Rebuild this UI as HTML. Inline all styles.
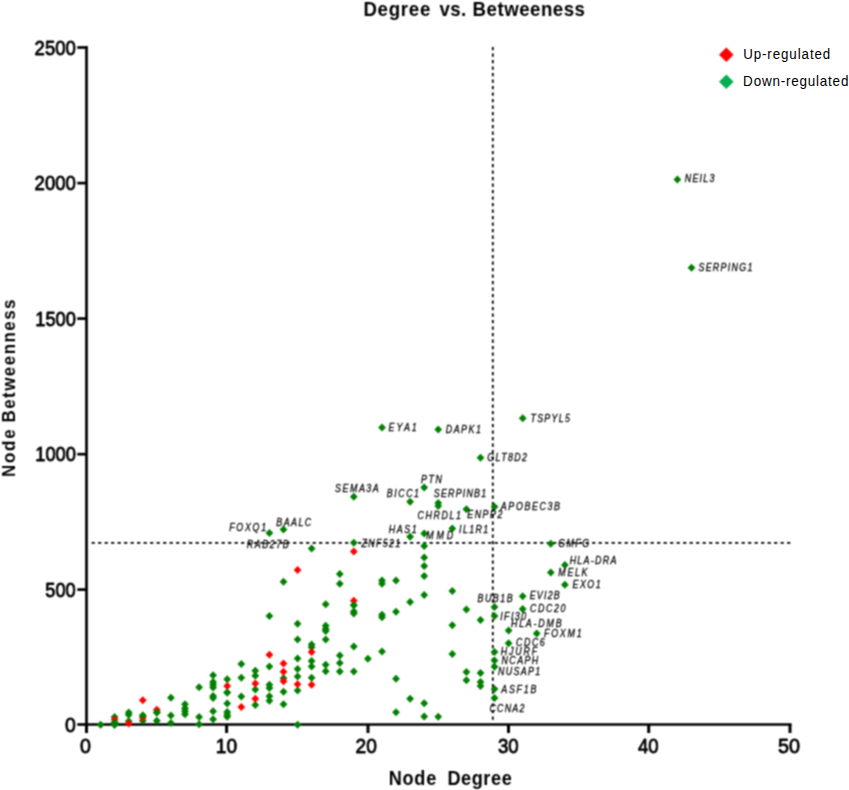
<!DOCTYPE html><html><head><meta charset="utf-8"><style>html,body{margin:0;padding:0;background:#fff;}svg{display:block;}</style></head><body>
<svg width="849" height="790" viewBox="0 0 849 790">
<defs><filter id="gb" x="0" y="0" width="849" height="790" filterUnits="userSpaceOnUse" color-interpolation-filters="sRGB"><feConvolveMatrix order="3" kernelMatrix="0.0625 0.1250 0.0625 0.1250 0.2500 0.1250 0.0625 0.1250 0.0625" divisor="1" edgeMode="duplicate" preserveAlpha="true"/></filter></defs>
<g filter="url(#gb)">
<rect width="849" height="790" fill="#fff"/>
<line x1="492.8" y1="47" x2="492.8" y2="720" stroke="#000" stroke-width="1.8" stroke-dasharray="3.2 3.3"/>
<line x1="91.6" y1="542.9" x2="790.5" y2="542.9" stroke="#000" stroke-width="1.8" stroke-dasharray="3.2 3.3"/>
<g stroke="#000" stroke-width="2.7" fill="none" stroke-linecap="butt">
<line x1="86.5" y1="46" x2="86.5" y2="726"/>
<line x1="85" y1="724.5" x2="791.5" y2="724.5"/>
<line x1="77.3" y1="724.5" x2="86" y2="724.5" stroke-width="2.7"/>
<line x1="77.3" y1="589.6" x2="86" y2="589.6" stroke-width="2.7"/>
<line x1="77.3" y1="454.2" x2="86" y2="454.2" stroke-width="2.7"/>
<line x1="77.3" y1="318.6" x2="86" y2="318.6" stroke-width="2.7"/>
<line x1="77.3" y1="183.1" x2="86" y2="183.1" stroke-width="2.7"/>
<line x1="77.3" y1="47.5" x2="86" y2="47.5" stroke-width="2.7"/>
<line x1="86.5" y1="724" x2="86.5" y2="733" stroke-width="3"/>
<line x1="226.6" y1="724" x2="226.6" y2="733" stroke-width="3"/>
<line x1="368.0" y1="724" x2="368.0" y2="733" stroke-width="3"/>
<line x1="508.5" y1="724" x2="508.5" y2="733" stroke-width="3"/>
<line x1="648.7" y1="724" x2="648.7" y2="733" stroke-width="3"/>
<line x1="790.0" y1="724" x2="790.0" y2="733" stroke-width="3"/>
</g>
<polygon points="100.6,720.8 104.5,724.8 100.6,728.8 96.7,724.8" fill="#008000"/>
<polygon points="114.6,713.1 118.5,717.1 114.6,721.1 110.7,717.1" fill="#008000"/>
<polygon points="114.6,718.5 118.5,722.5 114.6,726.5 110.7,722.5" fill="#008000"/>
<polygon points="114.6,720.8 118.5,724.8 114.6,728.8 110.7,724.8" fill="#008000"/>
<polygon points="128.7,708.4 132.6,712.4 128.7,716.4 124.8,712.4" fill="#008000"/>
<polygon points="128.7,710.8 132.6,714.8 128.7,718.8 124.8,714.8" fill="#008000"/>
<polygon points="128.7,717.3 132.6,721.3 128.7,725.3 124.8,721.3" fill="#008000"/>
<polygon points="142.8,711.4 146.7,715.4 142.8,719.4 138.9,715.4" fill="#008000"/>
<polygon points="142.8,716.7 146.7,720.7 142.8,724.7 138.9,720.7" fill="#008000"/>
<polygon points="156.8,708.4 160.8,712.4 156.8,716.4 152.9,712.4" fill="#008000"/>
<polygon points="156.8,716.7 160.8,720.7 156.8,724.7 152.9,720.7" fill="#008000"/>
<polygon points="170.9,693.7 174.8,697.7 170.9,701.7 167.0,697.7" fill="#008000"/>
<polygon points="170.9,711.4 174.8,715.4 170.9,719.4 167.0,715.4" fill="#008000"/>
<polygon points="170.9,719.0 174.8,723.0 170.9,727.0 167.0,723.0" fill="#008000"/>
<polygon points="185.0,700.2 188.9,704.2 185.0,708.2 181.1,704.2" fill="#008000"/>
<polygon points="185.0,704.3 188.9,708.3 185.0,712.3 181.1,708.3" fill="#008000"/>
<polygon points="185.0,707.3 188.9,711.3 185.0,715.3 181.1,711.3" fill="#008000"/>
<polygon points="185.0,710.2 188.9,714.2 185.0,718.2 181.1,714.2" fill="#008000"/>
<polygon points="199.1,683.3 203.0,687.3 199.1,691.3 195.2,687.3" fill="#008000"/>
<polygon points="199.1,713.1 203.0,717.1 199.1,721.1 195.2,717.1" fill="#008000"/>
<polygon points="199.1,720.2 203.0,724.2 199.1,728.2 195.2,724.2" fill="#008000"/>
<polygon points="213.1,671.3 217.0,675.3 213.1,679.3 209.2,675.3" fill="#008000"/>
<polygon points="213.1,678.0 217.0,682.0 213.1,686.0 209.2,682.0" fill="#008000"/>
<polygon points="213.1,680.8 217.0,684.8 213.1,688.8 209.2,684.8" fill="#008000"/>
<polygon points="213.1,683.5 217.0,687.5 213.1,691.5 209.2,687.5" fill="#008000"/>
<polygon points="213.1,691.9 217.0,695.9 213.1,699.9 209.2,695.9" fill="#008000"/>
<polygon points="213.1,694.0 217.0,698.0 213.1,702.0 209.2,698.0" fill="#008000"/>
<polygon points="213.1,707.2 217.0,711.2 213.1,715.2 209.2,711.2" fill="#008000"/>
<polygon points="213.1,715.2 217.0,719.2 213.1,723.2 209.2,719.2" fill="#008000"/>
<polygon points="227.2,675.2 231.1,679.2 227.2,683.2 223.3,679.2" fill="#008000"/>
<polygon points="227.2,688.4 231.1,692.4 227.2,696.4 223.3,692.4" fill="#008000"/>
<polygon points="227.2,699.6 231.1,703.6 227.2,707.6 223.3,703.6" fill="#008000"/>
<polygon points="227.2,707.9 231.1,711.9 227.2,715.9 223.3,711.9" fill="#008000"/>
<polygon points="227.2,710.7 231.1,714.7 227.2,718.7 223.3,714.7" fill="#008000"/>
<polygon points="227.2,712.8 231.1,716.8 227.2,720.8 223.3,716.8" fill="#008000"/>
<polygon points="241.3,659.9 245.2,663.9 241.3,667.9 237.4,663.9" fill="#008000"/>
<polygon points="241.3,673.8 245.2,677.8 241.3,681.8 237.4,677.8" fill="#008000"/>
<polygon points="241.3,692.6 245.2,696.6 241.3,700.6 237.4,696.6" fill="#008000"/>
<polygon points="255.3,666.8 259.2,670.8 255.3,674.8 251.4,670.8" fill="#008000"/>
<polygon points="255.3,671.7 259.2,675.7 255.3,679.7 251.4,675.7" fill="#008000"/>
<polygon points="255.3,685.6 259.2,689.6 255.3,693.6 251.4,689.6" fill="#008000"/>
<polygon points="255.3,701.0 259.2,705.0 255.3,709.0 251.4,705.0" fill="#008000"/>
<polygon points="269.4,529.0 273.3,533.0 269.4,537.0 265.5,533.0" fill="#008000"/>
<polygon points="269.4,612.0 273.3,616.0 269.4,620.0 265.5,616.0" fill="#008000"/>
<polygon points="269.4,662.4 273.3,666.4 269.4,670.4 265.5,666.4" fill="#008000"/>
<polygon points="269.4,680.8 273.3,684.8 269.4,688.8 265.5,684.8" fill="#008000"/>
<polygon points="269.4,684.0 273.3,688.0 269.4,692.0 265.5,688.0" fill="#008000"/>
<polygon points="269.4,692.2 273.3,696.2 269.4,700.2 265.5,696.2" fill="#008000"/>
<polygon points="269.4,696.8 273.3,700.8 269.4,704.8 265.5,700.8" fill="#008000"/>
<polygon points="283.5,525.4 287.4,529.4 283.5,533.4 279.6,529.4" fill="#008000"/>
<polygon points="283.5,577.8 287.4,581.8 283.5,585.8 279.6,581.8" fill="#008000"/>
<polygon points="283.5,674.3 287.4,678.3 283.5,682.3 279.6,678.3" fill="#008000"/>
<polygon points="283.5,687.8 287.4,691.8 283.5,695.8 279.6,691.8" fill="#008000"/>
<polygon points="283.5,700.2 287.4,704.2 283.5,708.2 279.6,704.2" fill="#008000"/>
<polygon points="297.6,619.7 301.4,623.7 297.6,627.7 293.7,623.7" fill="#008000"/>
<polygon points="297.6,635.5 301.4,639.5 297.6,643.5 293.7,639.5" fill="#008000"/>
<polygon points="297.6,654.6 301.4,658.6 297.6,662.6 293.7,658.6" fill="#008000"/>
<polygon points="297.6,664.9 301.4,668.9 297.6,672.9 293.7,668.9" fill="#008000"/>
<polygon points="297.6,672.5 301.4,676.5 297.6,680.5 293.7,676.5" fill="#008000"/>
<polygon points="297.6,686.4 301.4,690.4 297.6,694.4 293.7,690.4" fill="#008000"/>
<polygon points="297.6,720.8 301.4,724.8 297.6,728.8 293.7,724.8" fill="#008000"/>
<polygon points="311.6,544.6 315.5,548.6 311.6,552.6 307.7,548.6" fill="#008000"/>
<polygon points="311.6,640.5 315.5,644.5 311.6,648.5 307.7,644.5" fill="#008000"/>
<polygon points="311.6,643.2 315.5,647.2 311.6,651.2 307.7,647.2" fill="#008000"/>
<polygon points="311.6,657.0 315.5,661.0 311.6,665.0 307.7,661.0" fill="#008000"/>
<polygon points="311.6,662.5 315.5,666.5 311.6,670.5 307.7,666.5" fill="#008000"/>
<polygon points="311.6,673.7 315.5,677.7 311.6,681.7 307.7,677.7" fill="#008000"/>
<polygon points="325.7,600.3 329.6,604.3 325.7,608.3 321.8,604.3" fill="#008000"/>
<polygon points="325.7,621.8 329.6,625.8 325.7,629.8 321.8,625.8" fill="#008000"/>
<polygon points="325.7,625.0 329.6,629.0 325.7,633.0 321.8,629.0" fill="#008000"/>
<polygon points="325.7,626.9 329.6,630.9 325.7,634.9 321.8,630.9" fill="#008000"/>
<polygon points="325.7,635.5 329.6,639.5 325.7,643.5 321.8,639.5" fill="#008000"/>
<polygon points="325.7,660.7 329.6,664.7 325.7,668.7 321.8,664.7" fill="#008000"/>
<polygon points="325.7,667.2 329.6,671.2 325.7,675.2 321.8,671.2" fill="#008000"/>
<polygon points="339.8,569.9 343.7,573.9 339.8,577.9 335.9,573.9" fill="#008000"/>
<polygon points="339.8,579.7 343.7,583.7 339.8,587.7 335.9,583.7" fill="#008000"/>
<polygon points="339.8,651.4 343.7,655.4 339.8,659.4 335.9,655.4" fill="#008000"/>
<polygon points="339.8,659.0 343.7,663.0 339.8,667.0 335.9,663.0" fill="#008000"/>
<polygon points="339.8,667.6 343.7,671.6 339.8,675.6 335.9,671.6" fill="#008000"/>
<polygon points="353.8,492.8 357.7,496.8 353.8,500.8 349.9,496.8" fill="#008000"/>
<polygon points="353.8,538.8 357.7,542.8 353.8,546.8 349.9,542.8" fill="#008000"/>
<polygon points="353.8,601.3 357.7,605.3 353.8,609.3 349.9,605.3" fill="#008000"/>
<polygon points="353.8,607.5 357.7,611.5 353.8,615.5 349.9,611.5" fill="#008000"/>
<polygon points="353.8,609.5 357.7,613.5 353.8,617.5 349.9,613.5" fill="#008000"/>
<polygon points="353.8,642.5 357.7,646.5 353.8,650.5 349.9,646.5" fill="#008000"/>
<polygon points="353.8,667.4 357.7,671.4 353.8,675.4 349.9,671.4" fill="#008000"/>
<polygon points="367.9,654.8 371.8,658.8 367.9,662.8 364.0,658.8" fill="#008000"/>
<polygon points="382.0,423.6 385.9,427.6 382.0,431.6 378.1,427.6" fill="#008000"/>
<polygon points="382.0,576.4 385.9,580.4 382.0,584.4 378.1,580.4" fill="#008000"/>
<polygon points="382.0,579.8 385.9,583.8 382.0,587.8 378.1,583.8" fill="#008000"/>
<polygon points="382.0,610.8 385.9,614.8 382.0,618.8 378.1,614.8" fill="#008000"/>
<polygon points="382.0,613.3 385.9,617.3 382.0,621.3 378.1,617.3" fill="#008000"/>
<polygon points="382.0,647.6 385.9,651.6 382.0,655.6 378.1,651.6" fill="#008000"/>
<polygon points="396.0,576.4 399.9,580.4 396.0,584.4 392.1,580.4" fill="#008000"/>
<polygon points="396.0,607.8 399.9,611.8 396.0,615.8 392.1,611.8" fill="#008000"/>
<polygon points="396.0,674.7 399.9,678.7 396.0,682.7 392.1,678.7" fill="#008000"/>
<polygon points="396.0,708.3 399.9,712.3 396.0,716.3 392.1,712.3" fill="#008000"/>
<polygon points="410.1,497.7 414.0,501.7 410.1,505.7 406.2,501.7" fill="#008000"/>
<polygon points="410.1,532.7 414.0,536.7 410.1,540.7 406.2,536.7" fill="#008000"/>
<polygon points="410.1,598.0 414.0,602.0 410.1,606.0 406.2,602.0" fill="#008000"/>
<polygon points="410.1,694.8 414.0,698.8 410.1,702.8 406.2,698.8" fill="#008000"/>
<polygon points="424.2,483.4 428.1,487.4 424.2,491.4 420.3,487.4" fill="#008000"/>
<polygon points="424.2,529.4 428.1,533.4 424.2,537.4 420.3,533.4" fill="#008000"/>
<polygon points="424.2,541.9 428.1,545.9 424.2,549.9 420.3,545.9" fill="#008000"/>
<polygon points="424.2,553.5 428.1,557.5 424.2,561.5 420.3,557.5" fill="#008000"/>
<polygon points="424.2,561.9 428.1,565.9 424.2,569.9 420.3,565.9" fill="#008000"/>
<polygon points="424.2,572.0 428.1,576.0 424.2,580.0 420.3,576.0" fill="#008000"/>
<polygon points="424.2,591.1 428.1,595.1 424.2,599.1 420.3,595.1" fill="#008000"/>
<polygon points="424.2,699.3 428.1,703.3 424.2,707.3 420.3,703.3" fill="#008000"/>
<polygon points="424.2,712.6 428.1,716.6 424.2,720.6 420.3,716.6" fill="#008000"/>
<polygon points="438.2,425.4 442.1,429.4 438.2,433.4 434.4,429.4" fill="#008000"/>
<polygon points="438.2,499.0 442.1,503.0 438.2,507.0 434.4,503.0" fill="#008000"/>
<polygon points="438.2,502.0 442.1,506.0 438.2,510.0 434.4,506.0" fill="#008000"/>
<polygon points="438.2,712.8 442.1,716.8 438.2,720.8 434.4,716.8" fill="#008000"/>
<polygon points="452.3,524.4 456.2,528.4 452.3,532.4 448.4,528.4" fill="#008000"/>
<polygon points="452.3,587.1 456.2,591.1 452.3,595.1 448.4,591.1" fill="#008000"/>
<polygon points="452.3,621.3 456.2,625.3 452.3,629.3 448.4,625.3" fill="#008000"/>
<polygon points="452.3,650.0 456.2,654.0 452.3,658.0 448.4,654.0" fill="#008000"/>
<polygon points="466.4,505.2 470.3,509.2 466.4,513.2 462.5,509.2" fill="#008000"/>
<polygon points="466.4,605.4 470.3,609.4 466.4,613.4 462.5,609.4" fill="#008000"/>
<polygon points="466.4,668.1 470.3,672.1 466.4,676.1 462.5,672.1" fill="#008000"/>
<polygon points="466.4,676.3 470.3,680.3 466.4,684.3 462.5,680.3" fill="#008000"/>
<polygon points="480.5,453.7 484.4,457.7 480.5,461.7 476.6,457.7" fill="#008000"/>
<polygon points="480.5,616.0 484.4,620.0 480.5,624.0 476.6,620.0" fill="#008000"/>
<polygon points="480.5,669.0 484.4,673.0 480.5,677.0 476.6,673.0" fill="#008000"/>
<polygon points="480.5,677.9 484.4,681.9 480.5,685.9 476.6,681.9" fill="#008000"/>
<polygon points="480.5,681.9 484.4,685.9 480.5,689.9 476.6,685.9" fill="#008000"/>
<polygon points="494.5,502.7 498.4,506.7 494.5,510.7 490.6,506.7" fill="#008000"/>
<polygon points="494.5,603.1 498.4,607.1 494.5,611.1 490.6,607.1" fill="#008000"/>
<polygon points="494.5,612.0 498.4,616.0 494.5,620.0 490.6,616.0" fill="#008000"/>
<polygon points="494.5,648.0 498.4,652.0 494.5,656.0 490.6,652.0" fill="#008000"/>
<polygon points="494.5,656.6 498.4,660.6 494.5,664.6 490.6,660.6" fill="#008000"/>
<polygon points="494.5,662.8 498.4,666.8 494.5,670.8 490.6,666.8" fill="#008000"/>
<polygon points="494.5,685.0 498.4,689.0 494.5,693.0 490.6,689.0" fill="#008000"/>
<polygon points="494.5,694.0 498.4,698.0 494.5,702.0 490.6,698.0" fill="#008000"/>
<polygon points="508.6,626.6 512.5,630.6 508.6,634.6 504.7,630.6" fill="#008000"/>
<polygon points="508.6,639.2 512.5,643.2 508.6,647.2 504.7,643.2" fill="#008000"/>
<polygon points="522.7,414.2 526.6,418.2 522.7,422.2 518.8,418.2" fill="#008000"/>
<polygon points="522.7,592.2 526.6,596.2 522.7,600.2 518.8,596.2" fill="#008000"/>
<polygon points="522.7,604.9 526.6,608.9 522.7,612.9 518.8,608.9" fill="#008000"/>
<polygon points="536.7,629.6 540.6,633.6 536.7,637.6 532.8,633.6" fill="#008000"/>
<polygon points="550.8,539.8 554.7,543.8 550.8,547.8 546.9,543.8" fill="#008000"/>
<polygon points="550.8,568.4 554.7,572.4 550.8,576.4 546.9,572.4" fill="#008000"/>
<polygon points="564.9,560.9 568.8,564.9 564.9,568.9 561.0,564.9" fill="#008000"/>
<polygon points="564.9,580.7 568.8,584.7 564.9,588.7 561.0,584.7" fill="#008000"/>
<polygon points="677.4,175.4 681.3,179.4 677.4,183.4 673.5,179.4" fill="#008000"/>
<polygon points="691.5,263.7 695.4,267.7 691.5,271.7 687.6,267.7" fill="#008000"/>
<polygon points="114.6,715.5 118.5,719.5 114.6,723.5 110.7,719.5" fill="#ff0000"/>
<polygon points="128.7,719.6 132.6,723.6 128.7,727.6 124.8,723.6" fill="#ff0000"/>
<polygon points="142.8,696.3 146.7,700.3 142.8,704.3 138.9,700.3" fill="#ff0000"/>
<polygon points="142.8,713.7 146.7,717.7 142.8,721.7 138.9,717.7" fill="#ff0000"/>
<polygon points="156.8,705.7 160.8,709.7 156.8,713.7 152.9,709.7" fill="#ff0000"/>
<polygon points="227.2,681.9 231.1,685.9 227.2,689.9 223.3,685.9" fill="#ff0000"/>
<polygon points="241.3,703.0 245.2,707.0 241.3,711.0 237.4,707.0" fill="#ff0000"/>
<polygon points="255.3,679.4 259.2,683.4 255.3,687.4 251.4,683.4" fill="#ff0000"/>
<polygon points="255.3,694.7 259.2,698.7 255.3,702.7 251.4,698.7" fill="#ff0000"/>
<polygon points="269.4,650.7 273.3,654.7 269.4,658.7 265.5,654.7" fill="#ff0000"/>
<polygon points="283.5,659.6 287.4,663.6 283.5,667.6 279.6,663.6" fill="#ff0000"/>
<polygon points="283.5,667.8 287.4,671.8 283.5,675.8 279.6,671.8" fill="#ff0000"/>
<polygon points="283.5,677.2 287.4,681.2 283.5,685.2 279.6,681.2" fill="#ff0000"/>
<polygon points="297.6,565.9 301.4,569.9 297.6,573.9 293.7,569.9" fill="#ff0000"/>
<polygon points="297.6,680.2 301.4,684.2 297.6,688.2 293.7,684.2" fill="#ff0000"/>
<polygon points="311.6,648.0 315.5,652.0 311.6,656.0 307.7,652.0" fill="#ff0000"/>
<polygon points="311.6,680.8 315.5,684.8 311.6,688.8 307.7,684.8" fill="#ff0000"/>
<polygon points="353.8,547.6 357.7,551.6 353.8,555.6 349.9,551.6" fill="#ff0000"/>
<polygon points="353.8,596.7 357.7,600.7 353.8,604.7 349.9,600.7" fill="#ff0000"/>
<polygon points="156.8,708.4 160.8,712.4 156.8,716.4 152.9,712.4" fill="#008000"/>
<polygon points="353.8,601.3 357.7,605.3 353.8,609.3 349.9,605.3" fill="#008000"/>
<polygon points="142.8,711.4 146.7,715.4 142.8,719.4 138.9,715.4" fill="#008000"/>
<polygon points="227.2,688.4 231.1,692.4 227.2,696.4 223.3,692.4" fill="#008000"/>
<polygon points="114.6,718.5 118.5,722.5 114.6,726.5 110.7,722.5" fill="#008000"/>
<polygon points="114.6,720.8 118.5,724.8 114.6,728.8 110.7,724.8" fill="#008000"/>
<polygon points="726.3,47.6 733.6,54.8 726.3,62.0 719.0,54.8" fill="#ff0000"/>
<polygon points="726.3,74.5 733.6,81.7 726.3,88.9 719.0,81.7" fill="#00b050"/>
<text x="0" y="0" font-family="Liberation Sans" font-size="100" font-weight="bold" font-style="normal" fill="#000" transform="matrix(0.18652 0 0 0.20725 363.39 15.90)" letter-spacing="4.00">Degree</text>
<text x="0" y="0" font-family="Liberation Sans" font-size="100" font-weight="bold" font-style="normal" fill="#000" transform="matrix(0.18652 0 0 0.20725 439.51 15.90)" letter-spacing="2.05">vs.</text>
<text x="0" y="0" font-family="Liberation Sans" font-size="100" font-weight="bold" font-style="normal" fill="#000" transform="matrix(0.18652 0 0 0.20725 472.59 15.90)" letter-spacing="2.71">Betweeness</text>
<text x="0" y="0" font-family="Liberation Sans" font-size="100" font-weight="bold" font-style="normal" fill="#000" transform="matrix(0.18130 0 0 0.20145 388.73 784.90)" letter-spacing="4.02">Node</text>
<text x="0" y="0" font-family="Liberation Sans" font-size="100" font-weight="bold" font-style="normal" fill="#000" transform="matrix(0.18130 0 0 0.20145 447.43 784.90)" letter-spacing="3.14">Degree</text>
<text x="0" y="0" font-family="Liberation Sans" font-size="100" font-weight="bold" font-style="normal" fill="#000" transform="matrix(0 -0.16957 0.18841 0 14.70 476.99)" letter-spacing="10.23">Node</text>
<text x="0" y="0" font-family="Liberation Sans" font-size="100" font-weight="bold" font-style="normal" fill="#000" transform="matrix(0 -0.16957 0.18841 0 14.70 422.49)" letter-spacing="8.68">Betweenness</text>
<text x="0" y="0" font-family="Liberation Sans" font-size="100" font-weight="normal" font-style="normal" fill="#000" transform="matrix(0.19375 0 0 0.20423 64.93 731.50)" stroke="#000" stroke-width="4.02" stroke-linejoin="round">0</text>
<text x="0" y="0" font-family="Liberation Sans" font-size="100" font-weight="normal" font-style="normal" fill="#000" transform="matrix(0.18176 0 0 0.20423 45.37 596.60)" stroke="#000" stroke-width="4.15" stroke-linejoin="round">500</text>
<text x="0" y="0" font-family="Liberation Sans" font-size="100" font-weight="normal" font-style="normal" fill="#000" transform="matrix(0.18238 0 0 0.20423 35.24 461.20)" stroke="#000" stroke-width="4.14" stroke-linejoin="round">1000</text>
<text x="0" y="0" font-family="Liberation Sans" font-size="100" font-weight="normal" font-style="normal" fill="#000" transform="matrix(0.18238 0 0 0.20423 35.24 325.60)" stroke="#000" stroke-width="4.14" stroke-linejoin="round">1500</text>
<text x="0" y="0" font-family="Liberation Sans" font-size="100" font-weight="normal" font-style="normal" fill="#000" transform="matrix(0.18545 0 0 0.20423 34.57 190.10)" stroke="#000" stroke-width="4.11" stroke-linejoin="round">2000</text>
<text x="0" y="0" font-family="Liberation Sans" font-size="100" font-weight="normal" font-style="normal" fill="#000" transform="matrix(0.18545 0 0 0.20423 34.57 54.50)" stroke="#000" stroke-width="4.11" stroke-linejoin="round">2500</text>
<text x="0" y="0" font-family="Liberation Sans" font-size="100" font-weight="normal" font-style="normal" fill="#000" transform="matrix(0.19583 0 0 0.20704 80.02 753.29)" stroke="#000" stroke-width="3.97" stroke-linejoin="round">0</text>
<text x="0" y="0" font-family="Liberation Sans" font-size="100" font-weight="normal" font-style="normal" fill="#000" transform="matrix(0.19091 0 0 0.20704 215.87 753.29)" stroke="#000" stroke-width="4.02" stroke-linejoin="round">10</text>
<text x="0" y="0" font-family="Liberation Sans" font-size="100" font-weight="normal" font-style="normal" fill="#000" transform="matrix(0.19118 0 0 0.20704 355.54 753.29)" stroke="#000" stroke-width="4.02" stroke-linejoin="round">20</text>
<text x="0" y="0" font-family="Liberation Sans" font-size="100" font-weight="normal" font-style="normal" fill="#000" transform="matrix(0.18641 0 0 0.20704 497.95 753.29)" stroke="#000" stroke-width="4.07" stroke-linejoin="round">30</text>
<text x="0" y="0" font-family="Liberation Sans" font-size="100" font-weight="normal" font-style="normal" fill="#000" transform="matrix(0.18571 0 0 0.20704 638.03 753.29)" stroke="#000" stroke-width="4.07" stroke-linejoin="round">40</text>
<text x="0" y="0" font-family="Liberation Sans" font-size="100" font-weight="normal" font-style="normal" fill="#000" transform="matrix(0.19806 0 0 0.20704 778.11 753.29)" stroke="#000" stroke-width="3.95" stroke-linejoin="round">50</text>
<text x="0" y="0" font-family="Liberation Sans" font-size="100" font-weight="normal" font-style="italic" fill="#000" transform="matrix(0.08870 0 0 0.10435 684.73 182.30)" stroke="#000" stroke-width="2.59" stroke-linejoin="round" letter-spacing="14.09">NEIL3</text>
<text x="0" y="0" font-family="Liberation Sans" font-size="100" font-weight="normal" font-style="italic" fill="#000" transform="matrix(0.08870 0 0 0.10435 698.43 271.10)" stroke="#000" stroke-width="2.59" stroke-linejoin="round" letter-spacing="14.79">SERPING1</text>
<text x="0" y="0" font-family="Liberation Sans" font-size="100" font-weight="normal" font-style="italic" fill="#000" transform="matrix(0.08870 0 0 0.10435 530.40 421.50)" stroke="#000" stroke-width="2.59" stroke-linejoin="round" letter-spacing="14.92">TSPYL5</text>
<text x="0" y="0" font-family="Liberation Sans" font-size="100" font-weight="normal" font-style="italic" fill="#000" transform="matrix(0.08870 0 0 0.10435 388.43 430.50)" stroke="#000" stroke-width="2.59" stroke-linejoin="round" letter-spacing="23.26">EYA1</text>
<text x="0" y="0" font-family="Liberation Sans" font-size="100" font-weight="normal" font-style="italic" fill="#000" transform="matrix(0.08870 0 0 0.10435 445.73 433.30)" stroke="#000" stroke-width="2.59" stroke-linejoin="round" letter-spacing="17.12">DAPK1</text>
<text x="0" y="0" font-family="Liberation Sans" font-size="100" font-weight="normal" font-style="italic" fill="#000" transform="matrix(0.08870 0 0 0.10435 487.26 461.00)" stroke="#000" stroke-width="2.59" stroke-linejoin="round" letter-spacing="15.59">GLT8D2</text>
<text x="0" y="0" font-family="Liberation Sans" font-size="100" font-weight="normal" font-style="italic" fill="#000" transform="matrix(0.08870 0 0 0.10435 420.93 482.60)" stroke="#000" stroke-width="2.59" stroke-linejoin="round" letter-spacing="17.63">PTN</text>
<text x="0" y="0" font-family="Liberation Sans" font-size="100" font-weight="normal" font-style="italic" fill="#000" transform="matrix(0.08870 0 0 0.10435 335.03 491.50)" stroke="#000" stroke-width="2.59" stroke-linejoin="round" letter-spacing="17.56">SEMA3A</text>
<text x="0" y="0" font-family="Liberation Sans" font-size="100" font-weight="normal" font-style="italic" fill="#000" transform="matrix(0.08870 0 0 0.10435 386.83 497.10)" stroke="#000" stroke-width="2.59" stroke-linejoin="round" letter-spacing="17.19">BICC1</text>
<text x="0" y="0" font-family="Liberation Sans" font-size="100" font-weight="normal" font-style="italic" fill="#000" transform="matrix(0.08870 0 0 0.10435 433.83 497.40)" stroke="#000" stroke-width="2.59" stroke-linejoin="round" letter-spacing="13.63">SERPINB1</text>
<text x="0" y="0" font-family="Liberation Sans" font-size="100" font-weight="normal" font-style="italic" fill="#000" transform="matrix(0.08870 0 0 0.10435 500.84 510.40)" stroke="#000" stroke-width="2.59" stroke-linejoin="round" letter-spacing="18.23">APOBEC3B</text>
<text x="0" y="0" font-family="Liberation Sans" font-size="100" font-weight="normal" font-style="italic" fill="#000" transform="matrix(0.08870 0 0 0.10435 417.57 518.90)" stroke="#000" stroke-width="2.59" stroke-linejoin="round" letter-spacing="17.93">CHRDL1</text>
<text x="0" y="0" font-family="Liberation Sans" font-size="100" font-weight="normal" font-style="italic" fill="#000" transform="matrix(0.08870 0 0 0.10435 467.33 518.10)" stroke="#000" stroke-width="2.59" stroke-linejoin="round" letter-spacing="16.77">ENPP2</text>
<text x="0" y="0" font-family="Liberation Sans" font-size="100" font-weight="normal" font-style="italic" fill="#000" transform="matrix(0.08870 0 0 0.10435 229.13 530.60)" stroke="#000" stroke-width="2.59" stroke-linejoin="round" letter-spacing="19.44">FOXQ1</text>
<text x="0" y="0" font-family="Liberation Sans" font-size="100" font-weight="normal" font-style="italic" fill="#000" transform="matrix(0.08870 0 0 0.10435 276.23 526.10)" stroke="#000" stroke-width="2.59" stroke-linejoin="round" letter-spacing="16.84">BAALC</text>
<text x="0" y="0" font-family="Liberation Sans" font-size="100" font-weight="normal" font-style="italic" fill="#000" transform="matrix(0.08870 0 0 0.10435 388.63 532.70)" stroke="#000" stroke-width="2.59" stroke-linejoin="round" letter-spacing="18.85">HAS1</text>
<text x="0" y="0" font-family="Liberation Sans" font-size="100" font-weight="normal" font-style="italic" fill="#000" transform="matrix(0.08870 0 0 0.10435 459.05 532.50)" stroke="#000" stroke-width="2.59" stroke-linejoin="round" letter-spacing="15.42">IL1R1</text>
<text x="0" y="0" font-family="Liberation Sans" font-size="100" font-weight="normal" font-style="italic" fill="#000" transform="matrix(0.08870 0 0 0.10435 426.13 539.10)" stroke="#000" stroke-width="2.59" stroke-linejoin="round" letter-spacing="32.82">MMD</text>
<text x="0" y="0" font-family="Liberation Sans" font-size="100" font-weight="normal" font-style="italic" fill="#000" transform="matrix(0.08870 0 0 0.10435 361.38 546.80)" stroke="#000" stroke-width="2.59" stroke-linejoin="round" letter-spacing="15.56">ZNF521</text>
<text x="0" y="0" font-family="Liberation Sans" font-size="100" font-weight="normal" font-style="italic" fill="#000" transform="matrix(0.08870 0 0 0.10435 246.73 547.90)" stroke="#000" stroke-width="2.59" stroke-linejoin="round" letter-spacing="17.73">RAB27B</text>
<text x="0" y="0" font-family="Liberation Sans" font-size="100" font-weight="normal" font-style="italic" fill="#000" transform="matrix(0.08870 0 0 0.10435 558.16 546.90)" stroke="#000" stroke-width="2.59" stroke-linejoin="round" letter-spacing="16.45">GMFG</text>
<text x="0" y="0" font-family="Liberation Sans" font-size="100" font-weight="normal" font-style="italic" fill="#000" transform="matrix(0.08870 0 0 0.10435 569.63 564.10)" stroke="#000" stroke-width="2.59" stroke-linejoin="round" letter-spacing="14.96">HLA-DRA</text>
<text x="0" y="0" font-family="Liberation Sans" font-size="100" font-weight="normal" font-style="italic" fill="#000" transform="matrix(0.08870 0 0 0.10435 558.33 575.90)" stroke="#000" stroke-width="2.59" stroke-linejoin="round" letter-spacing="19.07">MELK</text>
<text x="0" y="0" font-family="Liberation Sans" font-size="100" font-weight="normal" font-style="italic" fill="#000" transform="matrix(0.08870 0 0 0.10435 572.43 588.10)" stroke="#000" stroke-width="2.59" stroke-linejoin="round" letter-spacing="17.60">EXO1</text>
<text x="0" y="0" font-family="Liberation Sans" font-size="100" font-weight="normal" font-style="italic" fill="#000" transform="matrix(0.08870 0 0 0.10435 529.73 599.40)" stroke="#000" stroke-width="2.59" stroke-linejoin="round" letter-spacing="13.90">EVI2B</text>
<text x="0" y="0" font-family="Liberation Sans" font-size="100" font-weight="normal" font-style="italic" fill="#000" transform="matrix(0.08870 0 0 0.10435 477.43 602.10)" stroke="#000" stroke-width="2.59" stroke-linejoin="round" letter-spacing="17.56">BUB1B</text>
<text x="0" y="0" font-family="Liberation Sans" font-size="100" font-weight="normal" font-style="italic" fill="#000" transform="matrix(0.08870 0 0 0.10435 529.97 612.10)" stroke="#000" stroke-width="2.59" stroke-linejoin="round" letter-spacing="18.12">CDC20</text>
<text x="0" y="0" font-family="Liberation Sans" font-size="100" font-weight="normal" font-style="italic" fill="#000" transform="matrix(0.08870 0 0 0.10435 500.25 620.10)" stroke="#000" stroke-width="2.59" stroke-linejoin="round" letter-spacing="15.84">IFI30</text>
<text x="0" y="0" font-family="Liberation Sans" font-size="100" font-weight="normal" font-style="italic" fill="#000" transform="matrix(0.08870 0 0 0.10435 510.93 626.90)" stroke="#000" stroke-width="2.59" stroke-linejoin="round" letter-spacing="20.31">HLA-DMB</text>
<text x="0" y="0" font-family="Liberation Sans" font-size="100" font-weight="normal" font-style="italic" fill="#000" transform="matrix(0.08870 0 0 0.10435 544.03 637.30)" stroke="#000" stroke-width="2.59" stroke-linejoin="round" letter-spacing="19.91">FOXM1</text>
<text x="0" y="0" font-family="Liberation Sans" font-size="100" font-weight="normal" font-style="italic" fill="#000" transform="matrix(0.08870 0 0 0.10435 515.97 646.10)" stroke="#000" stroke-width="2.59" stroke-linejoin="round" letter-spacing="17.69">CDC6</text>
<text x="0" y="0" font-family="Liberation Sans" font-size="100" font-weight="normal" font-style="italic" fill="#000" transform="matrix(0.08870 0 0 0.10435 500.63 654.50)" stroke="#000" stroke-width="2.59" stroke-linejoin="round" letter-spacing="21.48">HJURF</text>
<text x="0" y="0" font-family="Liberation Sans" font-size="100" font-weight="normal" font-style="italic" fill="#000" transform="matrix(0.08870 0 0 0.10435 501.53 663.50)" stroke="#000" stroke-width="2.59" stroke-linejoin="round" letter-spacing="16.13">NCAPH</text>
<text x="0" y="0" font-family="Liberation Sans" font-size="100" font-weight="normal" font-style="italic" fill="#000" transform="matrix(0.08870 0 0 0.10435 498.03 675.30)" stroke="#000" stroke-width="2.59" stroke-linejoin="round" letter-spacing="15.30">NUSAP1</text>
<text x="0" y="0" font-family="Liberation Sans" font-size="100" font-weight="normal" font-style="italic" fill="#000" transform="matrix(0.08870 0 0 0.10435 501.34 692.60)" stroke="#000" stroke-width="2.59" stroke-linejoin="round" letter-spacing="19.43">ASF1B</text>
<text x="0" y="0" font-family="Liberation Sans" font-size="100" font-weight="normal" font-style="italic" fill="#000" transform="matrix(0.08870 0 0 0.10435 489.47 711.80)" stroke="#000" stroke-width="2.59" stroke-linejoin="round" letter-spacing="13.65">CCNA2</text>
</g>
<text x="0" y="0" font-family="Liberation Sans" font-size="100" font-weight="normal" font-style="normal" fill="#000" transform="matrix(0.13355 0 0 0.14058 743.13 58.90)" letter-spacing="6.79">Up-regulated</text>
<text x="0" y="0" font-family="Liberation Sans" font-size="100" font-weight="normal" font-style="normal" fill="#000" transform="matrix(0.13493 0 0 0.14203 743.12 85.90)" letter-spacing="5.74">Down-regulated</text>
</svg></body></html>
